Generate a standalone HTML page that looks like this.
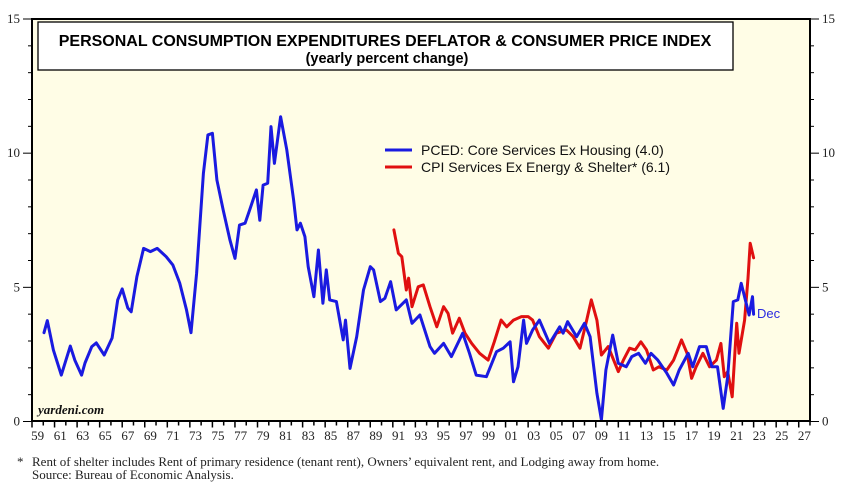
<!DOCTYPE html>
<html><head><meta charset="utf-8">
<style>
html,body{margin:0;padding:0;background:#fff;}
svg{display:block;}
.ax{font-family:"Liberation Serif",serif;font-size:13px;fill:#222;}
</style></head>
<body>
<svg id="chart" width="851" height="494" viewBox="0 0 851 494" xmlns="http://www.w3.org/2000/svg">
<rect x="32" y="19" width="778" height="402" fill="#fffde6"/>
<g id="grid"></g>
<rect x="38" y="22" width="695" height="48" fill="#fff" stroke="#000" stroke-width="1.3"/>
<text x="385" y="46" text-anchor="middle" font-family="Liberation Sans, sans-serif" font-weight="bold" font-size="16">PERSONAL CONSUMPTION EXPENDITURES DEFLATOR &amp; CONSUMER PRICE INDEX</text>
<text x="387" y="63" text-anchor="middle" font-family="Liberation Sans, sans-serif" font-weight="bold" font-size="14.5">(yearly percent change)</text>
<g id="series"></g>
<line x1="385" y1="150" x2="412" y2="150" stroke="#1a1ae0" stroke-width="3"/>
<line x1="385" y1="167" x2="412" y2="167" stroke="#e01010" stroke-width="3"/>
<text x="421" y="155" font-family="Liberation Sans, sans-serif" font-size="14" fill="#111">PCED: Core Services Ex Housing  (4.0)</text>
<text x="421" y="172" font-family="Liberation Sans, sans-serif" font-size="14" fill="#111">CPI Services Ex Energy &amp; Shelter* (6.1)</text>
<text x="757" y="318" font-family="Liberation Sans, sans-serif" font-size="13" fill="#2a2ae0">Dec</text>
<text x="38" y="414" font-family="Liberation Serif, serif" font-weight="bold" font-style="italic" font-size="13" fill="#111">yardeni.com</text>
<rect x="32" y="19" width="778" height="402" fill="none" stroke="#000" stroke-width="2"/>
<text x="17" y="466" class="ax" font-size="12">*</text>
<text x="32" y="466" class="ax" font-size="12.5">Rent of shelter includes Rent of primary residence (tenant rent), Owners’ equivalent rent, and Lodging away from home.</text>
<text x="32" y="479" class="ax" font-size="12.5">Source: Bureau of Economic Analysis.</text>
</svg>
<script>
const yTicks=[0,5,10,15];
const xLabels=["59","61","63","65","67","69","71","73","75","77","79","81","83","85","87","89","91","93","95","97","99","01","03","05","07","09","11","13","15","17","19","21","23","25","27"];
const pcedYears=[1960.06,1960.36,1960.9,1961.6,1962.4,1962.8,1963.4,1963.7,1964.3,1964.7,1965.4,1966.1,1966.6,1967.0,1967.5,1967.8,1968.3,1968.9,1969.5,1970.1,1970.9,1971.5,1972.1,1972.7,1973.1,1973.6,1974.2,1974.6,1975.0,1975.4,1975.96,1976.55,1977.0,1977.4,1977.9,1978.3,1978.9,1979.2,1979.5,1979.9,1980.2,1980.5,1981.05,1981.6,1982.2,1982.5,1982.8,1983.2,1983.5,1984.0,1984.4,1984.8,1985.1,1985.4,1986.0,1986.6,1986.8,1987.2,1987.8,1988.4,1989.0,1989.3,1989.9,1990.3,1990.8,1991.3,1992.2,1992.7,1993.4,1994.3,1994.7,1995.5,1996.2,1997.2,1997.8,1998.4,1999.3,2000.2,2000.8,2001.4,2001.7,2002.1,2002.6,2002.86,2003.4,2004.0,2004.9,2005.8,2006.1,2006.5,2007.3,2008.0,2008.5,2009.1,2009.5,2009.9,2010.5,2011.0,2011.7,2012.2,2012.8,2013.4,2013.9,2014.5,2015.3,2015.9,2016.4,2017.2,2017.6,2018.2,2018.8,2019.3,2019.8,2020.3,2020.7,2021.2,2021.6,2021.9,2022.6,2022.9,2023.0];
const pcedValues=[3.31,3.76,2.66,1.73,2.81,2.29,1.73,2.18,2.79,2.93,2.48,3.11,4.53,4.94,4.23,4.09,5.40,6.45,6.33,6.45,6.14,5.83,5.16,4.16,3.31,5.52,9.25,10.68,10.74,9.0,7.88,6.77,6.08,7.32,7.39,7.88,8.63,7.5,8.81,8.88,10.99,9.62,11.36,10.12,8.26,7.14,7.39,6.89,5.77,4.65,6.39,4.41,5.65,4.53,4.47,3.04,3.78,1.98,3.16,4.9,5.77,5.65,4.47,4.59,5.21,4.16,4.53,3.66,3.97,2.79,2.54,2.91,2.42,3.29,2.54,1.73,1.67,2.6,2.73,2.97,1.48,2.04,3.78,2.91,3.41,3.78,2.91,3.53,3.29,3.72,3.16,3.66,3.16,1.05,0.06,1.92,3.22,2.17,2.04,2.42,2.54,2.17,2.54,2.29,1.8,1.36,1.92,2.54,2.04,2.79,2.79,2.04,2.04,0.49,1.67,4.47,4.53,5.15,3.97,4.65,4.0];
const cpiYears=[1991.1,1991.5,1991.8,1992.2,1992.4,1992.7,1993.25,1993.7,1994.3,1994.9,1995.5,1995.9,1996.3,1996.9,1997.4,1998.0,1998.7,1999.45,2000.0,2000.6,2001.1,2001.7,2002.4,2003.0,2003.4,2004.0,2004.8,2005.5,2006.4,2007.0,2007.6,2008.2,2008.6,2009.1,2009.5,2010.1,2011.0,2011.45,2012.0,2012.5,2013.0,2013.5,2014.1,2014.6,2015.3,2015.9,2016.6,2017.1,2017.5,2017.9,2018.5,2019.1,2019.7,2020.1,2020.4,2020.7,2021.1,2021.5,2021.7,2022.2,2022.5,2022.7,2023.0];
const cpiValues=[7.14,6.27,6.14,4.9,5.34,4.28,5.02,5.09,4.28,3.53,4.28,4.03,3.29,3.85,3.29,2.91,2.54,2.29,2.97,3.78,3.53,3.78,3.91,3.91,3.78,3.16,2.73,3.29,3.41,3.16,2.73,3.78,4.53,3.78,2.48,2.79,1.86,2.29,2.73,2.67,2.97,2.67,1.92,2.04,1.92,2.29,3.04,2.54,1.61,2.04,2.54,2.04,2.29,2.91,1.67,1.86,0.92,3.66,2.54,3.78,5.34,6.64,6.1];

const NS="http://www.w3.org/2000/svg";
const L=32,R=810,T=19,B=421.5;
function xS(yr){return L+(yr-1959)*(R-L)/69;}
function yS(v){return B-v*(B-T)/15;}
const svg=document.getElementById('chart');
const grid=document.getElementById('grid');
function mk(tag,attrs,parent){const e=document.createElementNS(NS,tag);for(const k in attrs)e.setAttribute(k,attrs[k]);parent.appendChild(e);return e;}
for(let v=0;v<=15;v++){
  const y=yS(v);const major=v%5===0;
  const t1=mk('line',{x1:major?23:28,x2:L,y1:y,y2:y,stroke:'#000','stroke-width':1},grid);
  
  
  const t2=mk('line',{x1:R,x2:major?819:814,y1:y,y2:y,stroke:'#000','stroke-width':1},grid);
  
  
}
yTicks.forEach(v=>{
  const a=mk('text',{x:20,y:yS(v)+4,'text-anchor':'end',class:'ax'},svg);a.textContent=v;
  
  
  const b=mk('text',{x:822,y:yS(v)+4,class:'ax'},svg);b.textContent=v;
  
  
});
for(let yr=1959;yr<=2028;yr++){
  const x=xS(yr);
  const t=mk('line',{x1:x,x2:x,y1:B,y2:B+((yr-1959)%2===0?6:4),stroke:'#000','stroke-width':1.5},svg);
  
  
}
xLabels.forEach((lab,i)=>{
  const t=mk('text',{x:xS(1959+2*i+0.5),y:440,'text-anchor':'middle',class:'ax'},svg);t.textContent=lab;
  
  
});
const series=document.getElementById('series');
function line(xs,vs,color,name){
  const d=xs.map((yr,i)=>(i?'L':'M')+xS(yr).toFixed(1)+','+yS(vs[i]).toFixed(1)).join('');
  const p=mk('path',{d:d,fill:'none',stroke:color,'stroke-width':3,'stroke-linejoin':'round','stroke-linecap':'round'},series);
  
  
}
line(pcedYears,pcedValues,'#1a1ae0','pced-line');
line(cpiYears,cpiValues,'#e01010','cpi-line');
series.insertBefore(series.lastChild,series.firstChild);
</script>
</body></html>
